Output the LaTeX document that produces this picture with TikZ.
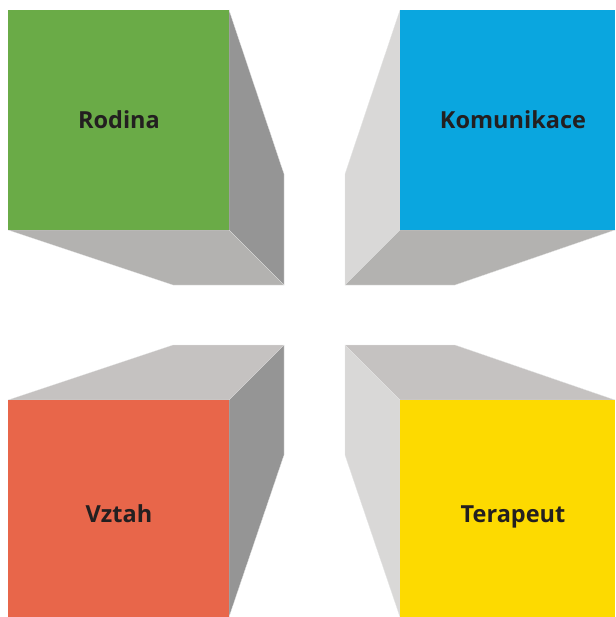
\documentclass[tikz,border=0pt]{standalone}
\usepackage{fontspec}
\setmainfont{Open Sans}
\definecolor{cgreen}{HTML}{6AAB47}
\definecolor{cblue}{HTML}{0AA6DF}
\definecolor{cred}{HTML}{E8664A}
\definecolor{cyellow}{HTML}{FDDA00}
\definecolor{gdark}{HTML}{959595}
\definecolor{gmid}{HTML}{B3B2B0}
\definecolor{glight}{HTML}{D9D8D7}
\definecolor{gtop}{HTML}{C5C2C1}
\definecolor{txt}{HTML}{231F20}
\begin{document}
\begin{tikzpicture}[x=1pt,y=-1pt,
  face/.style={draw=white!80!gray,line width=0.3pt,line join=round},
  label/.style={text=txt,font=\fontsize{23.5}{28}\selectfont\bfseries,inner sep=0pt,anchor=base}]
\useasboundingbox (0,0) rectangle (615,617);
% top-left cube
\fill[gdark,face] (229,10) -- (284,174) -- (284,285) -- (229,230) -- cycle;
\fill[gmid,face] (8,230) -- (229,230) -- (284,285) -- (173,285) -- cycle;
\fill[cgreen] (8,10) rectangle (229,230);
% top-right cube
\fill[glight,face] (400,10) -- (345,174) -- (345,285) -- (400,230) -- cycle;
\fill[gmid,face] (400,230) -- (615,230) -- (455,285) -- (345,285) -- cycle;
\fill[cblue] (400,10) rectangle (615,230);
% bottom-left cube
\fill[gtop,face] (8,400) -- (173,345) -- (284,345) -- (229,400) -- cycle;
\fill[gdark,face] (229,400) -- (284,345) -- (284,455) -- (229,617) -- cycle;
\fill[cred] (8,400) rectangle (229,617);
% bottom-right cube
\fill[gtop,face] (400,400) -- (345,345) -- (455,345) -- (615,400) -- cycle;
\fill[glight,face] (345,345) -- (400,400) -- (400,617) -- (345,455) -- cycle;
\fill[cyellow] (400,400) rectangle (615,617);
% labels
\node[label] (rodina) at (119,129) {Rodina};
\node[label] (komunikace) at (513,129) {Komunikace};
\node[label] (vztah) at (119,522) {Vztah};
\node[label] (terapeut) at (513,522) {Terapeut};
\end{tikzpicture}
\end{document}
